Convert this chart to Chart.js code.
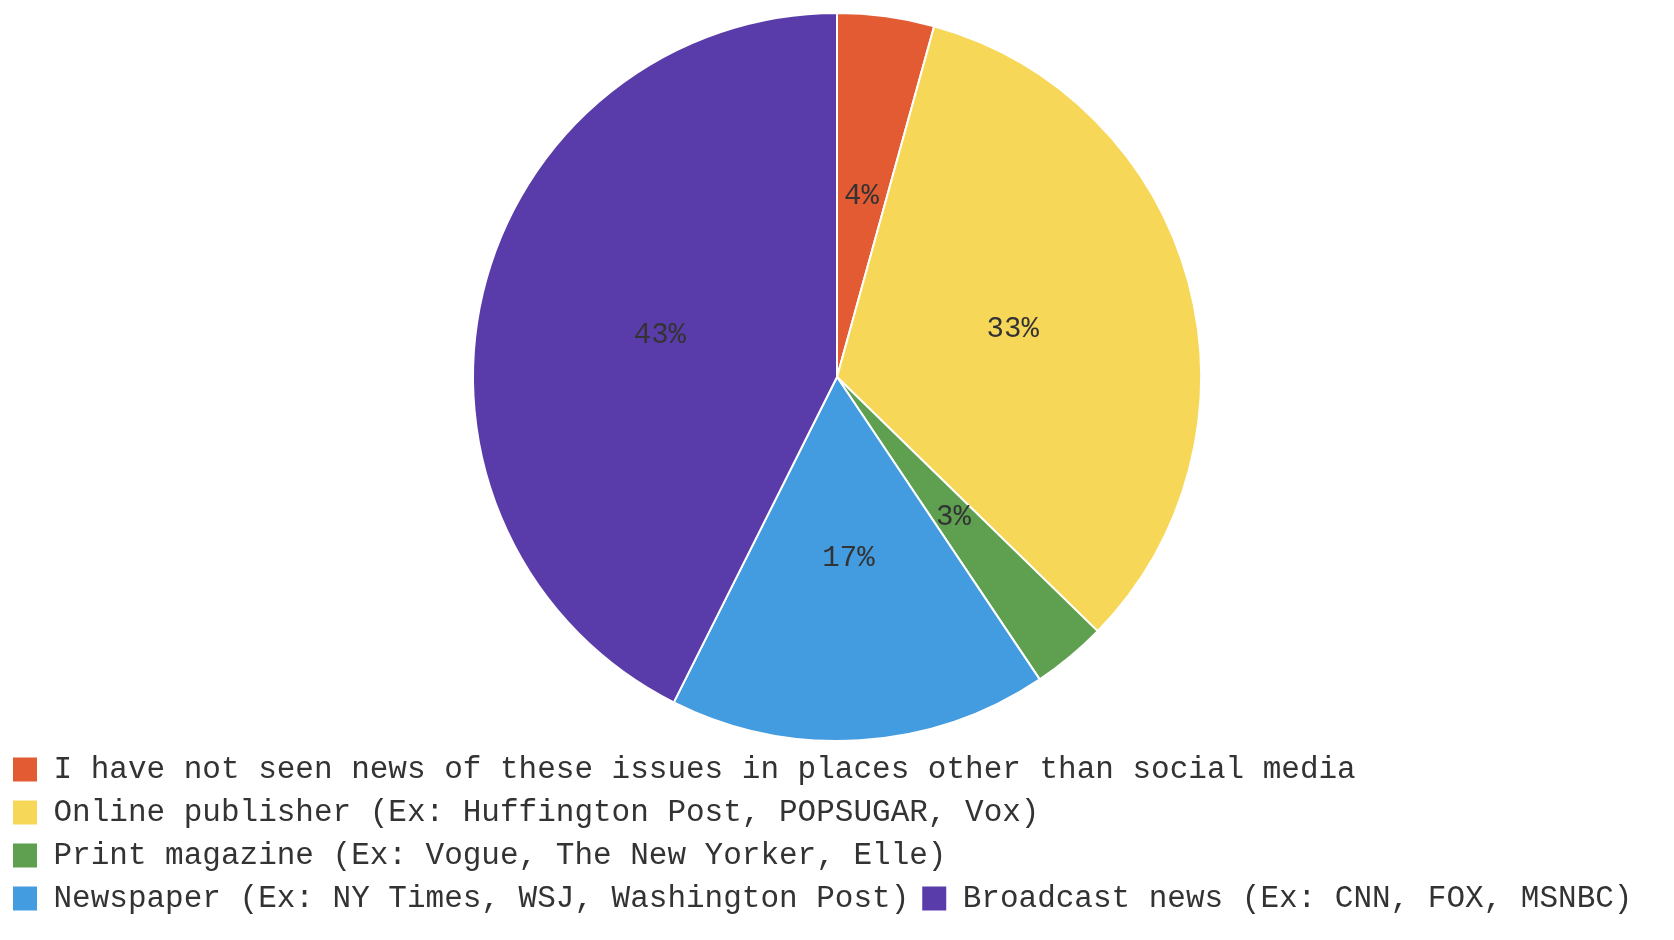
<!DOCTYPE html>
<html><head><meta charset="utf-8">
<script src="https://cdn.jsdelivr.net/npm/chart.js@4"></script>
<style>html,body{margin:0;padding:0;background:#fff}#w{width:1674px;height:940px}</style>
</head><body><div id="w"><canvas id="c"></canvas></div>
<script>
const categories = ["I have not seen news of these issues in places other than social media","Online publisher (Ex: Huffington Post, POPSUGAR, Vox)","Print magazine (Ex: Vogue, The New Yorker, Elle)","Newspaper (Ex: NY Times, WSJ, Washington Post)","Broadcast news (Ex: CNN, FOX, MSNBC)"];
const values = [4.3, 33.0, 3.3, 16.8, 42.6];
const pctLabels = ["4%","33%","3%","17%","43%"];
const colors = ["#e35b33","#f7d758","#5e9f50","#439be0","#593ca9"];
const labelPlugin = {id:'pl', afterDatasetsDraw(chart){
  const ctx=chart.ctx; const meta=chart.getDatasetMeta(0);
  ctx.save(); ctx.font='29px "Liberation Mono", monospace'; ctx.fillStyle='#333';
  ctx.textAlign='center'; ctx.textBaseline='middle';
  meta.data.forEach((a,i)=>{const p=a.tooltipPosition(); ctx.fillText(pctLabels[i],p.x,p.y);});
  ctx.restore();}};
new Chart(document.getElementById('c'),{type:'pie',
 data:{labels:categories,datasets:[{data:values,backgroundColor:colors,borderColor:'#fff',borderWidth:2}]},
 options:{responsive:true,maintainAspectRatio:false,animation:false,
  layout:{padding:{top:12,left:0,right:-44,bottom:16}},
  plugins:{tooltip:{enabled:false},
   legend:{position:'bottom',align:'start',labels:{font:{family:'"Liberation Mono", monospace',size:31},color:'#333',boxWidth:26,boxHeight:26,padding:12}}}},
 plugins:[labelPlugin]});
</script></body></html>
